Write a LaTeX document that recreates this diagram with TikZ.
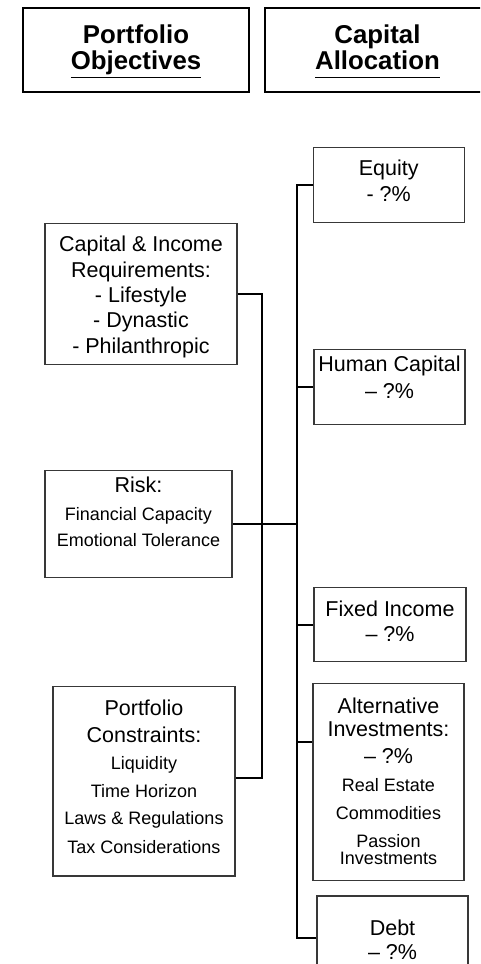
\documentclass[tikz,border=0pt]{standalone}
\usepackage{fontspec}
\setmainfont{Liberation Sans}
\usetikzlibrary{calc}
\newcommand\bigtxt{\fontsize{21.5}{0}\selectfont\lineskiplimit=-1000pt\lineskip=0pt\relax}
\newcommand\smtxt{\fontsize{18}{0}\selectfont}
\newcommand\hdtxt{\fontsize{25.8}{0}\selectfont\bfseries\lineskiplimit=-1000pt\lineskip=0pt\relax}
\newcommand\ulword[1]{\setbox0\hbox{#1}\rlap{\rule[-8.5pt]{\wd0}{1.9pt}}\box0}
\newcommand\topstrut[1]{\rule{0pt}{#1}}
\newcommand\botstrut[1]{\rule[-#1]{0pt}{#1}}
\tikzset{
  hdbox/.style={draw=black, line width=1.8pt, minimum width=226pt, minimum height=84pt, inner sep=0pt, align=center, font=\hdtxt},
  objbox/.style={draw=black!78, line width=1.1pt, inner sep=0pt, align=center, font=\bigtxt},
  conn/.style={draw=black, line width=1.9pt},
}
\begin{document}
\begin{tikzpicture}[x=1pt,y=-1pt]
\useasboundingbox (0,0) rectangle (480,964);
\clip (0,0) rectangle (480,964);
% headers
\node[hdbox] (hobj) at (136,50.3) {\topstrut{21.6pt}Portfolio\\[26.2pt]\ulword{Objectives}};
\node[hdbox, minimum width=225pt] (halloc) at (377.5,50.3) {\topstrut{21.6pt}Capital\\[26.2pt]\ulword{Allocation}};
% left column
\node[objbox, minimum width=192pt, minimum height=141pt] (capinc) at (141,293.8)
 {\topstrut{21.8pt}Capital \& Income\\[25.4pt]Requirements:\\[25.4pt]- Lifestyle\\[25.4pt]- Dynastic\\[25.4pt]- Philanthropic};
\node[objbox, minimum width=187pt, minimum height=107.7pt] (risk) at (138.5,523.9)
 {Risk:\\[27.3pt]{\smtxt Financial Capacity}\\[26.7pt]{\smtxt Emotional Tolerance}\botstrut{23.8pt}};
\node[objbox, minimum width=182pt, minimum height=189.3pt] (constr) at (144,781.3)
 {Portfolio\\[26.6pt]Constraints:\\[27pt]{\smtxt Liquidity}\\[28.4pt]{\smtxt Time Horizon}\\[26.3pt]{\smtxt Laws \& Regulations}\\[29.3pt]{\smtxt Tax Considerations}\botstrut{9pt}};
% right column
\node[objbox, minimum width=150.7pt, minimum height=75.4pt] (equity) at (388.7,185)
 {Equity\\[26.7pt]- ?\%\botstrut{8.7pt}};
\node[objbox, minimum width=151pt, minimum height=75pt] (hcap) at (389.5,386.8)
 {Human Capital\\[26.7pt]– ?\%\botstrut{19.3pt}};
\node[objbox, minimum width=152pt, minimum height=74pt] (fixinc) at (390,624.7)
 {Fixed Income\\[25pt]– ?\%\botstrut{6.4pt}};
\node[objbox, minimum width=151pt, minimum height=197.5pt] (alt) at (388.5,781.8)
 {Alternative\\[23.4pt]Investments:\\[27.3pt]– ?\%\\[27.7pt]{\smtxt Real Estate}\\[27.6pt]{\smtxt Commodities}\\[28.4pt]{\smtxt Passion}\\[16.6pt]{\smtxt Investments}\botstrut{1.8pt}};
\node[objbox, minimum width=151pt, minimum height=84pt] (debt) at (392.5,938)
 {\topstrut{19pt}Debt\\[24pt]– ?\%};
% buses
\coordinate (lbus) at (261.7,0);
\coordinate (rbus) at (297,0);
\coordinate (consjoin) at ([yshift=3.3pt]constr.east);
\coordinate (altjoin) at ([yshift=40pt]alt.west);
% connectors
\draw[conn] (capinc.east) -| (lbus |- consjoin) -- (consjoin);
\draw[conn] (risk.east) -- (rbus |- risk.east);
\draw[conn] (equity.west) -| (rbus |- debt.west) -- (debt.west);
\draw[conn] (rbus |- hcap.west) -- (hcap.west);
\draw[conn] (rbus |- fixinc.west) -- (fixinc.west);
\draw[conn] (rbus |- altjoin) -- (altjoin);
\end{tikzpicture}
\end{document}
